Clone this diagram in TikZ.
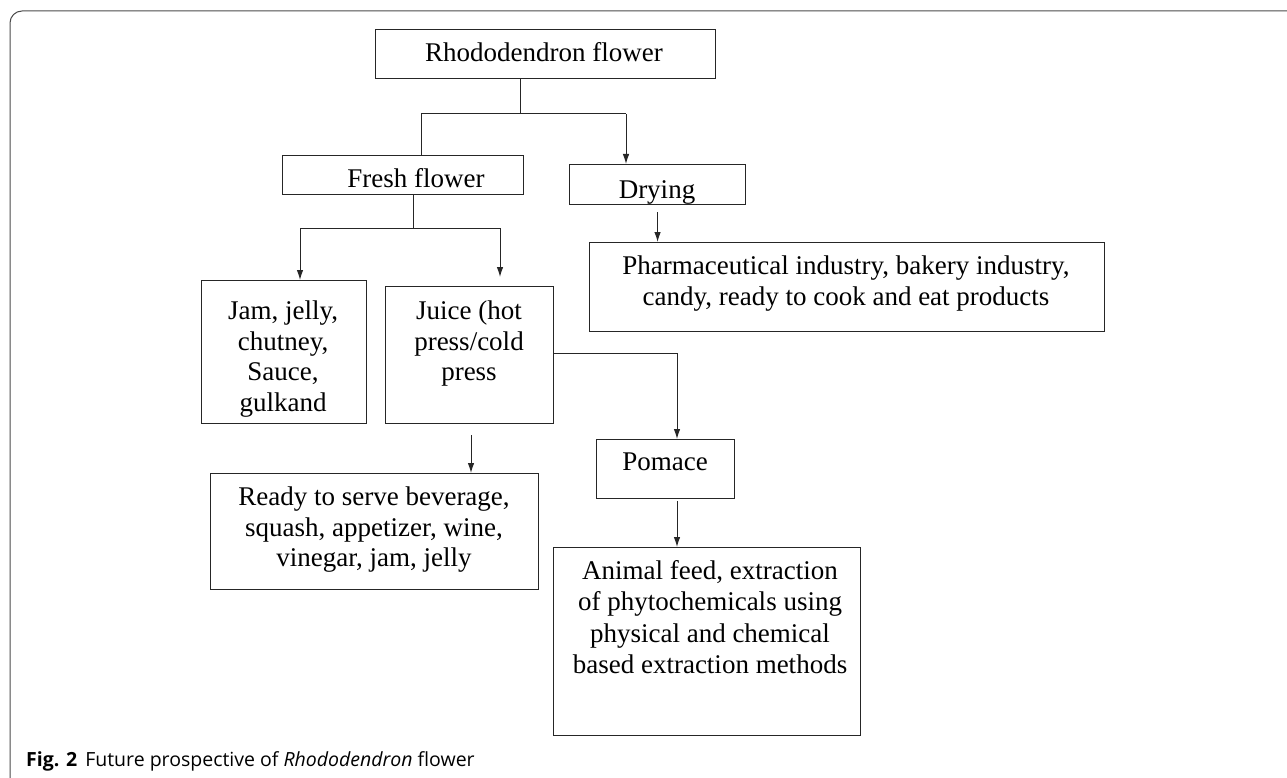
\documentclass[tikz,border=0pt]{standalone}
\usepackage{fontspec}
\setmainfont{Liberation Serif}
\newfontfamily\capfont{Open Sans}
\usetikzlibrary{arrows.meta,calc}
\begin{document}
\begin{tikzpicture}[x=1pt,y=-1pt,
  box/.style={draw=black!85, line width=1.1pt, rectangle, inner sep=0pt, anchor=north west},
  txt/.style={font=\fontsize{27}{30.5}\selectfont, align=center, inner sep=0pt, anchor=north},
  conn/.style={draw=black!85, line width=1pt},
  arr/.style={conn, -{Latex[length=10pt,width=6.5pt]}}]
\useasboundingbox (0,0) rectangle (1287,778);
\fill[white] (0,0) rectangle (1287,778);
\draw[gray!60!black, line width=1pt, rounded corners=12pt] (10,11) rectangle (1320,800);
% boxes
\node[box, minimum width=340pt, minimum height=49pt] (rho) at (375,29) {};
\node[box, minimum width=241pt, minimum height=39pt] (fresh) at (282,155) {};
\node[box, minimum width=176pt, minimum height=40pt] (dry) at (569,164) {};
\node[box, minimum width=515pt, minimum height=89pt] (pharma) at (589,242) {};
\node[box, minimum width=165pt, minimum height=143pt] (jam) at (201,280) {};
\node[box, minimum width=168pt, minimum height=137pt] (juice) at (385,286) {};
\node[box, minimum width=138pt, minimum height=59pt] (pomace) at (596,439) {};
\node[box, minimum width=328pt, minimum height=116pt] (ready) at (210,473) {};
\node[box, minimum width=307pt, minimum height=188pt] (animal) at (553,547) {};
% texts
\node[txt] (trho) at (544,42) {Rhododendron flower};
\node[txt] (tfresh) at (416,168) {Fresh flower};
\node[txt] (tdry) at (657,180) {Drying};
\node[txt] (tpharma) at (846,256) {Pharmaceutical industry, bakery industry,\\candy, ready to cook and eat products};
\node[txt] (tjam) at (283,301) {Jam, jelly,\\chutney,\\Sauce,\\gulkand};
\node[txt] (tjuice) at (469,301) {Juice (hot\\press/cold\\press};
\node[txt] (tpomace) at (665,453) {Pomace};
\node[txt] (tready) at (374,487) {Ready to serve beverage,\\squash, appetizer, wine,\\vinegar, jam, jelly};
\node[txt, font=\fontsize{27}{31.5}\selectfont] (tanimal) at (710,560) {Animal feed, extraction\\of phytochemicals using\\physical and chemical\\based extraction methods};
% junction coordinates
\coordinate (t1) at (520,114);
\coordinate (ta) at (421,114);
\coordinate (tb) at (626,114);
\coordinate (t2) at (413,228);
\coordinate (tc) at (300,228);
\coordinate (td) at (500,228);
\coordinate (tj) at (677,353);
\coordinate (tr) at (471,0);
% connectors
\draw[conn] (rho.south -| t1) -- (t1);
\draw[conn] (fresh.north -| ta) -- (ta) -- (tb);
\draw[arr] (tb) -- (dry.north -| tb);
\draw[conn] (fresh.south -| t2) -- (t2);
\draw[conn] (tc) -- (td);
\draw[arr] (tc) -- (jam.north -| tc);
\draw[arr, shorten >=9pt] (td) -- (juice.north -| td);
\draw[arr, shorten <=7pt] (dry.south) -- (dry.south |- pharma.north);
\draw[arr] (juice.east |- tj) -| (pomace.north -| tj);
\draw[arr, shorten <=11pt] (juice.south -| tr) -- (ready.north -| tr);
\draw[arr, shorten <=2pt] (pomace.south -| tj) -- (animal.north -| tj);
% caption
\node[anchor=base west, inner sep=0pt, font=\capfont\fontsize{19.5}{22}\selectfont] (cap) at (26,766) {\textbf{Fig. 2}\hspace{8pt}Future prospective of \textit{Rhododendron} flower};
\end{tikzpicture}
\end{document}
